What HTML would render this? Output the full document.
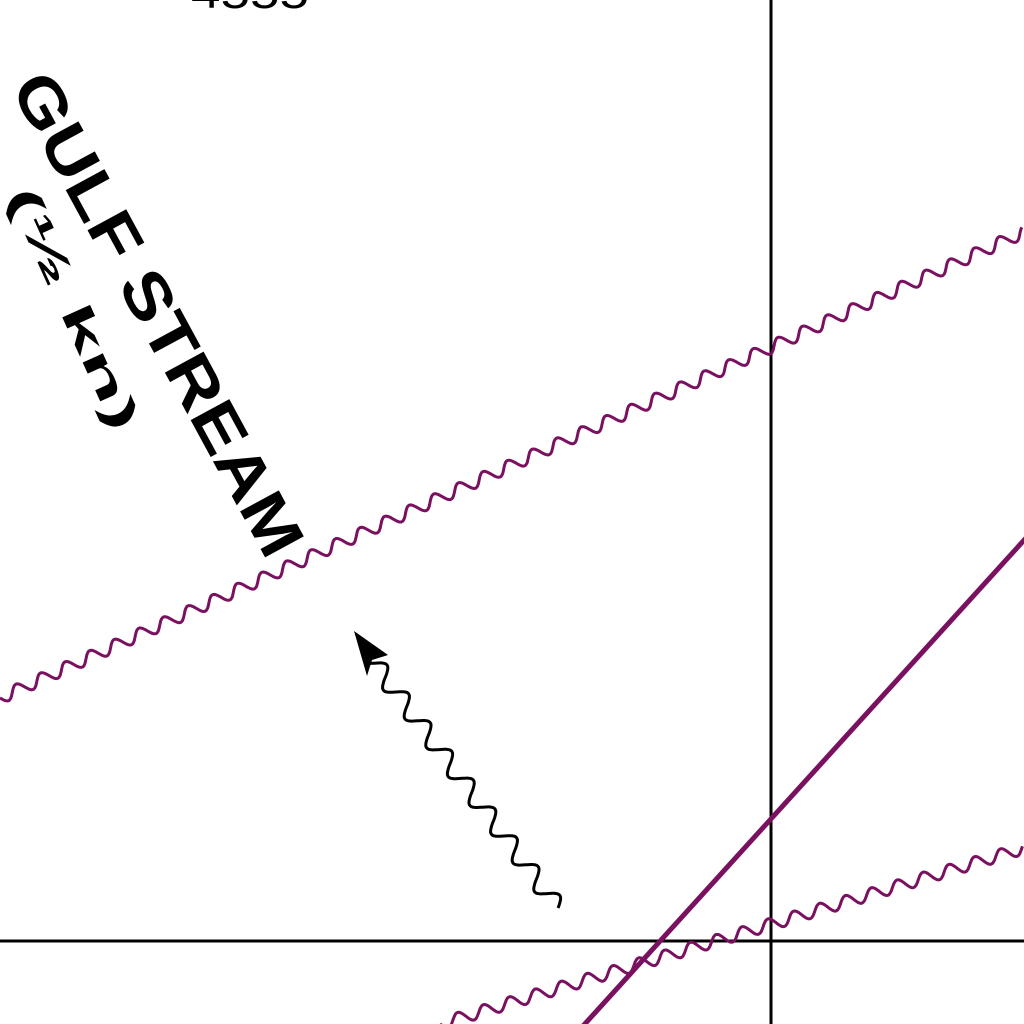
<!DOCTYPE html>
<html><head><meta charset="utf-8"><style>
html,body{margin:0;padding:0;background:#fff;width:1024px;height:1024px;overflow:hidden}
svg{display:block}
text{font-family:"Liberation Sans",sans-serif;font-weight:bold;fill:#000}
</style></head><body>
<svg id="map" width="1024" height="1024" viewBox="0 0 1024 1024">
  <rect width="1024" height="1024" fill="#fff"/>
  <text x="250" y="8" font-size="44" text-anchor="middle" style="font-weight:normal" textLength="118" lengthAdjust="spacingAndGlyphs">4555</text>
  <line x1="771" y1="0" x2="771" y2="1024" stroke="#000" stroke-width="3"/>
  <line x1="0" y1="941" x2="1024" y2="941" stroke="#000" stroke-width="3"/>
  <line x1="583" y1="1026" x2="1026" y2="538" stroke="#7a1060" stroke-width="5"/>
  <g id="waves"></g>
  <text transform="translate(158,314) rotate(61.5)" font-size="64" text-anchor="middle" dominant-baseline="central" textLength="540" lengthAdjust="spacingAndGlyphs">GULF STREAM</text>
  <text transform="translate(74,308) rotate(65.7)" font-size="42" text-anchor="middle" dominant-baseline="central" textLength="262" lengthAdjust="spacingAndGlyphs">(½ kn)</text>
  <polygon points="354,631 388,655 372,660 367,676" fill="#000"/>
</svg>
<script>
const NS="http://www.w3.org/2000/svg";
const g=document.getElementById('waves');
function wave(x1,y1,x2,y2,amp,period,color,w,name){
  const dx=x2-x1,dy=y2-y1,L=Math.hypot(dx,dy),ux=dx/L,uy=dy/L,nx=-uy,ny=ux;
  let d="";
  for(let s=0;s<=L;s+=1){
    const a=amp*Math.sin(2*Math.PI*s/period);
    const x=x1+ux*s+nx*a,y=y1+uy*s+ny*a;
    d+=(s===0?"M":"L")+x.toFixed(1)+","+y.toFixed(1);
  }
  const p=document.createElementNS(NS,'path');
  p.setAttribute('d',d);p.setAttribute('fill','none');
  p.setAttribute('stroke',color);p.setAttribute('stroke-width',w);
  
  
  g.appendChild(p);
}
wave(0,698,1024,232,6,27,'#7a1060',3,'gulf-stream-boundary-upper');
wave(440,1024,1024,848,6,27,'#7a1060',3,'gulf-stream-boundary-lower');
wave(558,908,372,660,9,36,'#000',3,'current-arrow');
</script>
</body></html>
